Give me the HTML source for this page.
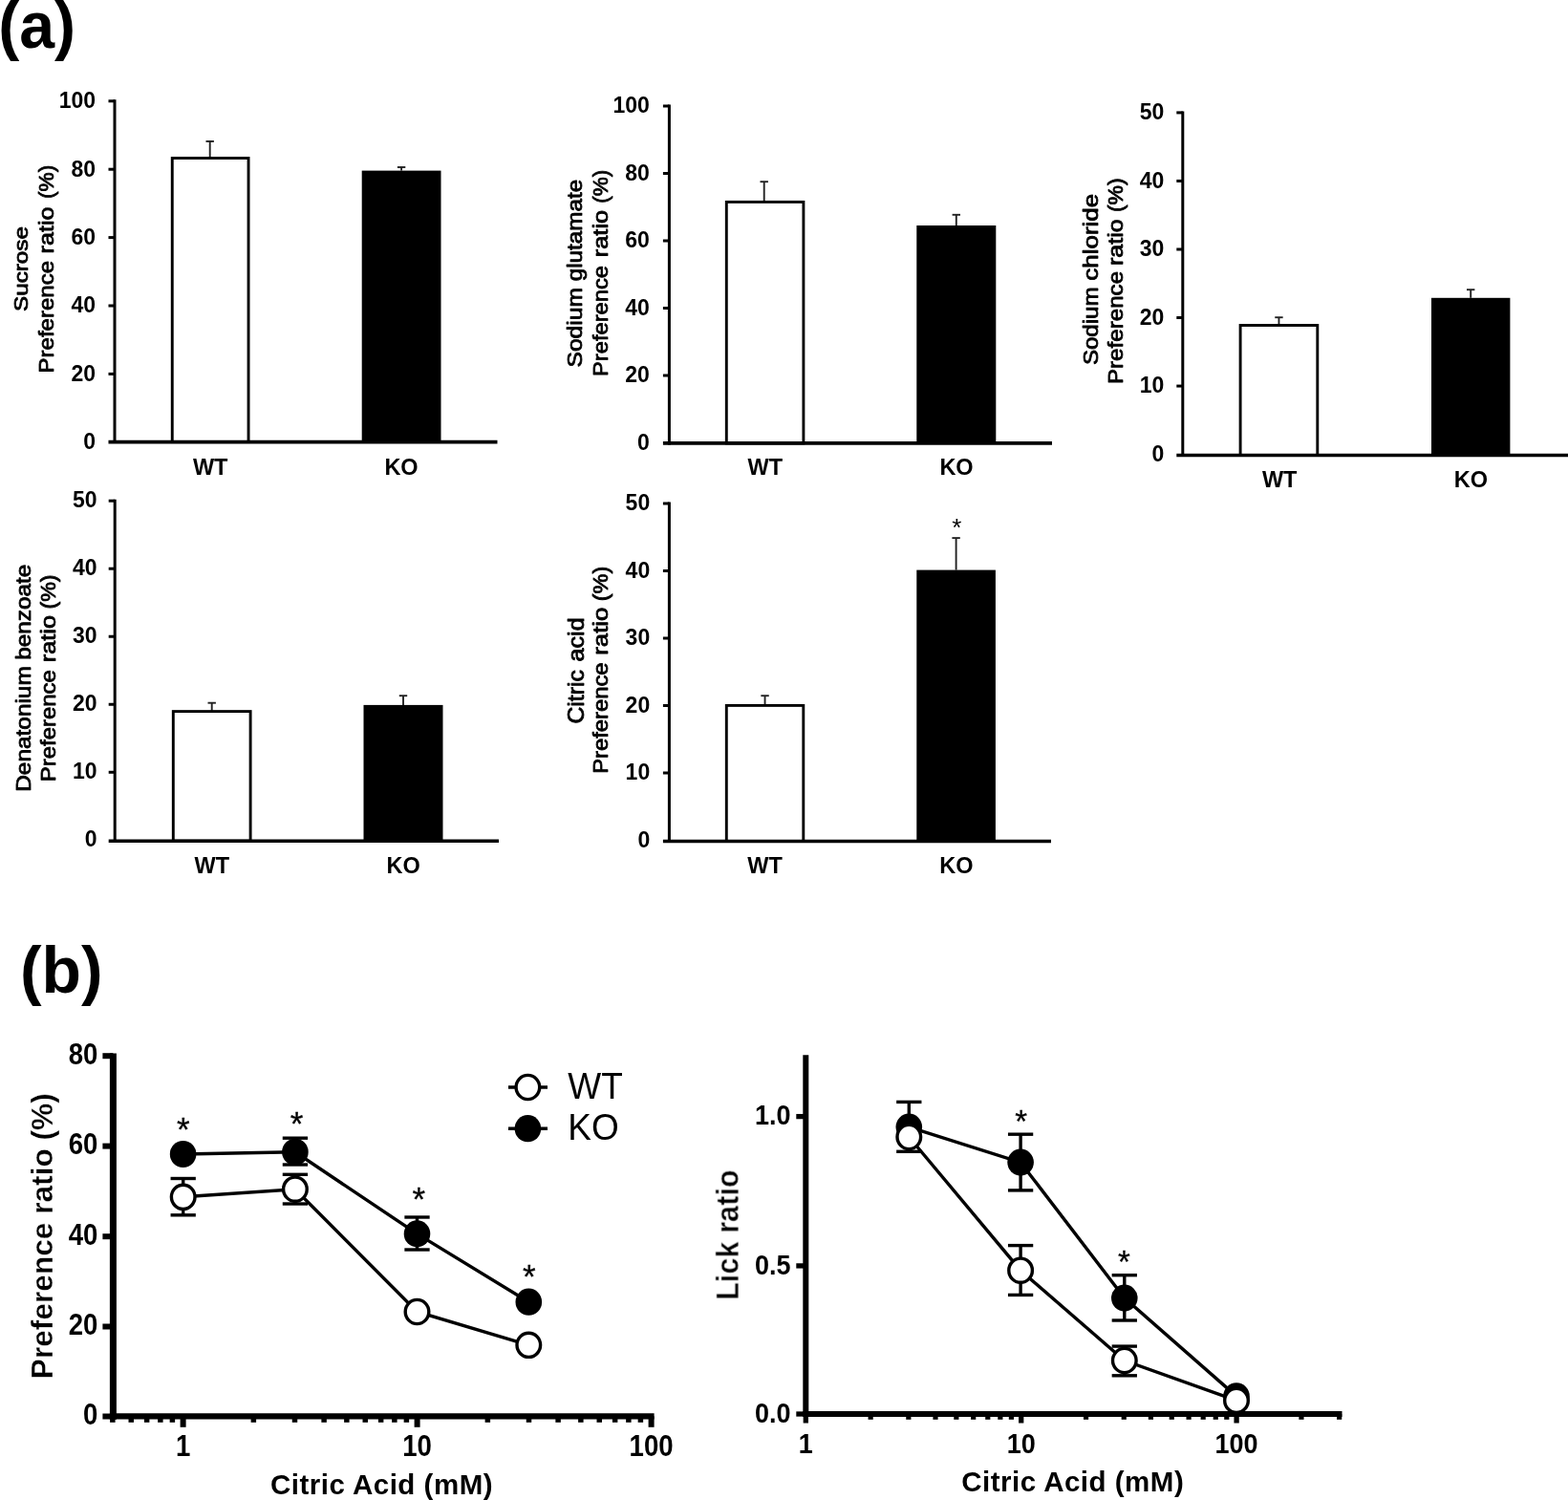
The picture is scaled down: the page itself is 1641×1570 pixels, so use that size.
<!DOCTYPE html>
<html lang="en">
<head>
<meta charset="utf-8">
<title>Figure</title>
<style>
html,body{margin:0;padding:0;background:#fff;}
body{width:1641px;height:1570px;overflow:hidden;}
svg{display:block;}
</style>
</head>
<body>
<svg width="1641" height="1570" viewBox="0 0 1641 1570" font-family="'Liberation Sans', sans-serif" fill="#000">
<rect width="1641" height="1570" fill="#fff"/>
<g style="filter:blur(0.45px)">
<text x="-1.8" y="49.9" font-size="68.5" font-weight="bold" text-anchor="start" transform="translate(-1.8 49.9) scale(0.967 1) translate(1.8 -49.9)">(a)</text>
<text x="21.0" y="1038.8" font-size="68.5" font-weight="bold" text-anchor="start" transform="translate(21.0 1038.8) scale(0.99 1) translate(-21.0 -1038.8)">(b)</text>
<text x="29.3" y="325.99" font-size="20.2" text-anchor="start" transform="translate(29.3 325.99) rotate(-90) scale(1.2006 1) translate(-29.3 -325.99)" stroke="#000" stroke-width="0.8" stroke-linejoin="round">Sucrose</text>
<text x="55.7" y="390.53" font-size="21.6" text-anchor="start" transform="translate(55.7 390.53) rotate(-90) scale(1.1144 1) translate(-55.7 -390.53)" stroke="#000" stroke-width="0.8" stroke-linejoin="round">Preference</text>
<text x="55.7" y="265.44" font-size="21.6" text-anchor="start" transform="translate(55.7 265.44) rotate(-90) scale(1.1675 1) translate(-55.7 -265.44)" stroke="#000" stroke-width="0.8" stroke-linejoin="round">ratio</text>
<text x="55.7" y="207.96" font-size="21.6" text-anchor="start" transform="translate(55.7 207.96) rotate(-90) scale(1.049 1) translate(-55.7 -207.96)" stroke="#000" stroke-width="0.8" stroke-linejoin="round">(%)</text>
<line x1="219.7" y1="165.5" x2="219.7" y2="147.95" stroke="#222" stroke-width="1.9" stroke-linecap="butt"/>
<line x1="215.5" y1="147.95" x2="223.89999999999998" y2="147.95" stroke="#222" stroke-width="1.9" stroke-linecap="butt"/>
<rect x="180.25" y="165.50" width="79.80" height="297.10" fill="#fff" stroke="#000" stroke-width="2.9"/>
<line x1="420.1" y1="178.6" x2="420.1" y2="175.0" stroke="#222" stroke-width="1.9" stroke-linecap="butt"/>
<line x1="415.90000000000003" y1="175.0" x2="424.3" y2="175.0" stroke="#222" stroke-width="1.9" stroke-linecap="butt"/>
<rect x="378.70" y="178.60" width="82.80" height="284.00" fill="#000"/>
<line x1="120.0" y1="104.3" x2="120.0" y2="464.1" stroke="#000" stroke-width="3.0" stroke-linecap="butt"/>
<line x1="113.5" y1="462.6" x2="520.5" y2="462.6" stroke="#000" stroke-width="3.6" stroke-linecap="butt"/>
<line x1="113.5" y1="391.4" x2="120.0" y2="391.4" stroke="#000" stroke-width="3.0" stroke-linecap="butt"/>
<line x1="113.5" y1="320.0" x2="120.0" y2="320.0" stroke="#000" stroke-width="3.0" stroke-linecap="butt"/>
<line x1="113.5" y1="248.60000000000002" x2="120.0" y2="248.60000000000002" stroke="#000" stroke-width="3.0" stroke-linecap="butt"/>
<line x1="113.5" y1="177.2" x2="120.0" y2="177.2" stroke="#000" stroke-width="3.0" stroke-linecap="butt"/>
<line x1="113.5" y1="105.80000000000001" x2="120.0" y2="105.80000000000001" stroke="#000" stroke-width="3.0" stroke-linecap="butt"/>
<text x="100.0" y="470.1" font-size="23" font-weight="bold" text-anchor="end">0</text>
<text x="100.0" y="398.7" font-size="23" font-weight="bold" text-anchor="end">20</text>
<text x="100.0" y="327.3" font-size="23" font-weight="bold" text-anchor="end">40</text>
<text x="100.0" y="255.9" font-size="23" font-weight="bold" text-anchor="end">60</text>
<text x="100.0" y="184.5" font-size="23" font-weight="bold" text-anchor="end">80</text>
<text x="100.0" y="113.1" font-size="23" font-weight="bold" text-anchor="end">100</text>
<text x="220.2" y="497.2" font-size="23.5" font-weight="bold" text-anchor="middle">WT</text>
<text x="420.0" y="497.2" font-size="23.5" font-weight="bold" text-anchor="middle">KO</text>
<text x="609.5" y="384.51" font-size="22.0" text-anchor="start" transform="translate(609.5 384.51) rotate(-90) scale(1.1197 1) translate(-609.5 -384.51)" stroke="#000" stroke-width="0.8" stroke-linejoin="round">Sodium</text>
<text x="609.5" y="294.37" font-size="22.0" text-anchor="start" transform="translate(609.5 294.37) rotate(-90) scale(1.1055 1) translate(-609.5 -294.37)" stroke="#000" stroke-width="0.8" stroke-linejoin="round">glutamate</text>
<text x="636.4" y="394.0" font-size="22.0" text-anchor="start" transform="translate(636.4 394.0) rotate(-90) scale(1.0789 1) translate(-636.4 -394.0)" stroke="#000" stroke-width="0.8" stroke-linejoin="round">Preference</text>
<text x="636.4" y="269.25" font-size="22.0" text-anchor="start" transform="translate(636.4 269.25) rotate(-90) scale(1.1561 1) translate(-636.4 -269.25)" stroke="#000" stroke-width="0.8" stroke-linejoin="round">ratio</text>
<text x="636.4" y="212.75" font-size="22.0" text-anchor="start" transform="translate(636.4 212.75) rotate(-90) scale(1.0235 1) translate(-636.4 -212.75)" stroke="#000" stroke-width="0.8" stroke-linejoin="round">(%)</text>
<line x1="799.7" y1="211.4" x2="799.7" y2="190.2" stroke="#222" stroke-width="1.9" stroke-linecap="butt"/>
<line x1="795.5" y1="190.2" x2="803.9000000000001" y2="190.2" stroke="#222" stroke-width="1.9" stroke-linecap="butt"/>
<rect x="760.30" y="211.40" width="80.60" height="252.50" fill="#fff" stroke="#000" stroke-width="2.9"/>
<line x1="1000.8" y1="236.0" x2="1000.8" y2="224.8" stroke="#222" stroke-width="1.9" stroke-linecap="butt"/>
<line x1="996.5999999999999" y1="224.8" x2="1005.0" y2="224.8" stroke="#222" stroke-width="1.9" stroke-linecap="butt"/>
<rect x="959.30" y="236.00" width="83.00" height="227.90" fill="#000"/>
<line x1="700.4" y1="109.5" x2="700.4" y2="465.4" stroke="#000" stroke-width="3.0" stroke-linecap="butt"/>
<line x1="693.9" y1="463.9" x2="1101" y2="463.9" stroke="#000" stroke-width="3.6" stroke-linecap="butt"/>
<line x1="693.9" y1="393.0" x2="700.4" y2="393.0" stroke="#000" stroke-width="3.0" stroke-linecap="butt"/>
<line x1="693.9" y1="322.5" x2="700.4" y2="322.5" stroke="#000" stroke-width="3.0" stroke-linecap="butt"/>
<line x1="693.9" y1="252.0" x2="700.4" y2="252.0" stroke="#000" stroke-width="3.0" stroke-linecap="butt"/>
<line x1="693.9" y1="181.5" x2="700.4" y2="181.5" stroke="#000" stroke-width="3.0" stroke-linecap="butt"/>
<line x1="693.9" y1="111.0" x2="700.4" y2="111.0" stroke="#000" stroke-width="3.0" stroke-linecap="butt"/>
<text x="679.9" y="470.5" font-size="23" font-weight="bold" text-anchor="end">0</text>
<text x="679.9" y="400.0" font-size="23" font-weight="bold" text-anchor="end">20</text>
<text x="679.9" y="329.5" font-size="23" font-weight="bold" text-anchor="end">40</text>
<text x="679.9" y="259.0" font-size="23" font-weight="bold" text-anchor="end">60</text>
<text x="679.9" y="188.5" font-size="23" font-weight="bold" text-anchor="end">80</text>
<text x="679.9" y="118.0" font-size="23" font-weight="bold" text-anchor="end">100</text>
<text x="800.8" y="497.4" font-size="23.5" font-weight="bold" text-anchor="middle">WT</text>
<text x="1001.0" y="497.4" font-size="23.5" font-weight="bold" text-anchor="middle">KO</text>
<text x="1148.6" y="382.08" font-size="22.0" text-anchor="start" transform="translate(1148.6 382.08) rotate(-90) scale(1.0948 1) translate(-1148.6 -382.08)" stroke="#000" stroke-width="0.8" stroke-linejoin="round">Sodium</text>
<text x="1148.6" y="293.67" font-size="22.0" text-anchor="start" transform="translate(1148.6 293.67) rotate(-90) scale(1.1797 1) translate(-1148.6 -293.67)" stroke="#000" stroke-width="0.8" stroke-linejoin="round">chloride</text>
<text x="1175.3" y="402.03" font-size="22.0" text-anchor="start" transform="translate(1175.3 402.03) rotate(-90) scale(1.098 1) translate(-1175.3 -402.03)" stroke="#000" stroke-width="0.8" stroke-linejoin="round">Preference</text>
<text x="1175.3" y="278.03" font-size="22.0" text-anchor="start" transform="translate(1175.3 278.03) rotate(-90) scale(1.1388 1) translate(-1175.3 -278.03)" stroke="#000" stroke-width="0.8" stroke-linejoin="round">ratio</text>
<text x="1175.3" y="222.08" font-size="22.0" text-anchor="start" transform="translate(1175.3 222.08) rotate(-90) scale(1.0458 1) translate(-1175.3 -222.08)" stroke="#000" stroke-width="0.8" stroke-linejoin="round">(%)</text>
<line x1="1338.4499999999998" y1="340.5" x2="1338.4499999999998" y2="332.2" stroke="#222" stroke-width="1.9" stroke-linecap="butt"/>
<line x1="1334.2499999999998" y1="332.2" x2="1342.6499999999999" y2="332.2" stroke="#222" stroke-width="1.9" stroke-linecap="butt"/>
<rect x="1298.10" y="340.50" width="80.70" height="136.00" fill="#fff" stroke="#000" stroke-width="2.9"/>
<line x1="1539.2" y1="311.8" x2="1539.2" y2="303.2" stroke="#222" stroke-width="1.9" stroke-linecap="butt"/>
<line x1="1535.0" y1="303.2" x2="1543.4" y2="303.2" stroke="#222" stroke-width="1.9" stroke-linecap="butt"/>
<rect x="1498.00" y="311.80" width="82.40" height="164.70" fill="#000"/>
<line x1="1237.8" y1="116.4" x2="1237.8" y2="478.0" stroke="#000" stroke-width="3.0" stroke-linecap="butt"/>
<line x1="1231.3" y1="476.5" x2="1641" y2="476.5" stroke="#000" stroke-width="3.3" stroke-linecap="butt"/>
<line x1="1231.3" y1="404.06" x2="1237.8" y2="404.06" stroke="#000" stroke-width="3.0" stroke-linecap="butt"/>
<line x1="1231.3" y1="332.52" x2="1237.8" y2="332.52" stroke="#000" stroke-width="3.0" stroke-linecap="butt"/>
<line x1="1231.3" y1="260.98" x2="1237.8" y2="260.98" stroke="#000" stroke-width="3.0" stroke-linecap="butt"/>
<line x1="1231.3" y1="189.44" x2="1237.8" y2="189.44" stroke="#000" stroke-width="3.0" stroke-linecap="butt"/>
<line x1="1231.3" y1="117.89999999999998" x2="1237.8" y2="117.89999999999998" stroke="#000" stroke-width="3.0" stroke-linecap="butt"/>
<text x="1218.3" y="482.8" font-size="23" font-weight="bold" text-anchor="end">0</text>
<text x="1218.3" y="411.3" font-size="23" font-weight="bold" text-anchor="end">10</text>
<text x="1218.3" y="339.7" font-size="23" font-weight="bold" text-anchor="end">20</text>
<text x="1218.3" y="268.2" font-size="23" font-weight="bold" text-anchor="end">30</text>
<text x="1218.3" y="196.6" font-size="23" font-weight="bold" text-anchor="end">40</text>
<text x="1218.3" y="125.1" font-size="23" font-weight="bold" text-anchor="end">50</text>
<text x="1339.2" y="509.6" font-size="23.5" font-weight="bold" text-anchor="middle">WT</text>
<text x="1539.4" y="509.6" font-size="23.5" font-weight="bold" text-anchor="middle">KO</text>
<text x="32.0" y="828.75" font-size="22.0" text-anchor="start" transform="translate(32.0 828.75) rotate(-90) scale(1.1093 1) translate(-32.0 -828.75)" stroke="#000" stroke-width="0.8" stroke-linejoin="round">Denatonium</text>
<text x="32.0" y="690.68" font-size="22.0" text-anchor="start" transform="translate(32.0 690.68) rotate(-90) scale(1.1054 1) translate(-32.0 -690.68)" stroke="#000" stroke-width="0.8" stroke-linejoin="round">benzoate</text>
<text x="58.3" y="818.32" font-size="22.0" text-anchor="start" transform="translate(58.3 818.32) rotate(-90) scale(1.0903 1) translate(-58.3 -818.32)" stroke="#000" stroke-width="0.8" stroke-linejoin="round">Preference</text>
<text x="58.3" y="693.25" font-size="22.0" text-anchor="start" transform="translate(58.3 693.25) rotate(-90) scale(1.1537 1) translate(-58.3 -693.25)" stroke="#000" stroke-width="0.8" stroke-linejoin="round">ratio</text>
<text x="58.3" y="637.6" font-size="22.0" text-anchor="start" transform="translate(58.3 637.6) rotate(-90) scale(1.0585 1) translate(-58.3 -637.6)" stroke="#000" stroke-width="0.8" stroke-linejoin="round">(%)</text>
<line x1="221.70000000000002" y1="744.6" x2="221.70000000000002" y2="735.7" stroke="#222" stroke-width="1.9" stroke-linecap="butt"/>
<line x1="217.50000000000003" y1="735.7" x2="225.9" y2="735.7" stroke="#222" stroke-width="1.9" stroke-linecap="butt"/>
<rect x="181.30" y="744.60" width="80.80" height="135.60" fill="#fff" stroke="#000" stroke-width="2.9"/>
<line x1="422.0" y1="737.9" x2="422.0" y2="728.2" stroke="#222" stroke-width="1.9" stroke-linecap="butt"/>
<line x1="417.8" y1="728.2" x2="426.2" y2="728.2" stroke="#222" stroke-width="1.9" stroke-linecap="butt"/>
<rect x="380.50" y="737.90" width="83.00" height="142.30" fill="#000"/>
<line x1="120.2" y1="522.7" x2="120.2" y2="881.7" stroke="#000" stroke-width="3.0" stroke-linecap="butt"/>
<line x1="113.7" y1="880.2" x2="522" y2="880.2" stroke="#000" stroke-width="3.6" stroke-linecap="butt"/>
<line x1="113.7" y1="808.28" x2="120.2" y2="808.28" stroke="#000" stroke-width="3.0" stroke-linecap="butt"/>
<line x1="113.7" y1="737.26" x2="120.2" y2="737.26" stroke="#000" stroke-width="3.0" stroke-linecap="butt"/>
<line x1="113.7" y1="666.24" x2="120.2" y2="666.24" stroke="#000" stroke-width="3.0" stroke-linecap="butt"/>
<line x1="113.7" y1="595.22" x2="120.2" y2="595.22" stroke="#000" stroke-width="3.0" stroke-linecap="butt"/>
<line x1="113.7" y1="524.2" x2="120.2" y2="524.2" stroke="#000" stroke-width="3.0" stroke-linecap="butt"/>
<text x="101.5" y="885.9" font-size="23" font-weight="bold" text-anchor="end">0</text>
<text x="101.5" y="814.9" font-size="23" font-weight="bold" text-anchor="end">10</text>
<text x="101.5" y="743.9" font-size="23" font-weight="bold" text-anchor="end">20</text>
<text x="101.5" y="672.8" font-size="23" font-weight="bold" text-anchor="end">30</text>
<text x="101.5" y="601.8" font-size="23" font-weight="bold" text-anchor="end">40</text>
<text x="101.5" y="530.8" font-size="23" font-weight="bold" text-anchor="end">50</text>
<text x="221.8" y="914.1" font-size="23.5" font-weight="bold" text-anchor="middle">WT</text>
<text x="422.2" y="914.1" font-size="23.5" font-weight="bold" text-anchor="middle">KO</text>
<text x="610.7" y="757.54" font-size="23" text-anchor="start" transform="translate(610.7 757.54) rotate(-90) scale(1.0791 1) translate(-610.7 -757.54)" stroke="#000" stroke-width="0.8" stroke-linejoin="round">Citric</text>
<text x="610.7" y="692.43" font-size="23" text-anchor="start" transform="translate(610.7 692.43) rotate(-90) scale(1.0939 1) translate(-610.7 -692.43)" stroke="#000" stroke-width="0.8" stroke-linejoin="round">acid</text>
<text x="636.5" y="809.81" font-size="22.0" text-anchor="start" transform="translate(636.5 809.81) rotate(-90) scale(1.0827 1) translate(-636.5 -809.81)" stroke="#000" stroke-width="0.8" stroke-linejoin="round">Preference</text>
<text x="636.5" y="685.78" font-size="22.0" text-anchor="start" transform="translate(636.5 685.78) rotate(-90) scale(1.1734 1) translate(-636.5 -685.78)" stroke="#000" stroke-width="0.8" stroke-linejoin="round">ratio</text>
<text x="636.5" y="629.21" font-size="22.0" text-anchor="start" transform="translate(636.5 629.21) rotate(-90) scale(1.068 1) translate(-636.5 -629.21)" stroke="#000" stroke-width="0.8" stroke-linejoin="round">(%)</text>
<line x1="800.55" y1="738.4" x2="800.55" y2="728.2" stroke="#222" stroke-width="1.9" stroke-linecap="butt"/>
<line x1="796.3499999999999" y1="728.2" x2="804.75" y2="728.2" stroke="#222" stroke-width="1.9" stroke-linecap="butt"/>
<rect x="760.30" y="738.40" width="80.50" height="142.10" fill="#fff" stroke="#000" stroke-width="2.9"/>
<line x1="1000.6" y1="596.6" x2="1000.6" y2="563.1" stroke="#222" stroke-width="1.9" stroke-linecap="butt"/>
<line x1="996.4" y1="563.1" x2="1004.8000000000001" y2="563.1" stroke="#222" stroke-width="1.9" stroke-linecap="butt"/>
<rect x="959.30" y="596.60" width="82.60" height="283.90" fill="#000"/>
<line x1="700.4" y1="525.5" x2="700.4" y2="882.0" stroke="#000" stroke-width="3.0" stroke-linecap="butt"/>
<line x1="693.9" y1="880.5" x2="1100" y2="880.5" stroke="#000" stroke-width="3.6" stroke-linecap="butt"/>
<line x1="693.9" y1="809.0" x2="700.4" y2="809.0" stroke="#000" stroke-width="3.0" stroke-linecap="butt"/>
<line x1="693.9" y1="738.5" x2="700.4" y2="738.5" stroke="#000" stroke-width="3.0" stroke-linecap="butt"/>
<line x1="693.9" y1="668.0" x2="700.4" y2="668.0" stroke="#000" stroke-width="3.0" stroke-linecap="butt"/>
<line x1="693.9" y1="597.5" x2="700.4" y2="597.5" stroke="#000" stroke-width="3.0" stroke-linecap="butt"/>
<line x1="693.9" y1="527.0" x2="700.4" y2="527.0" stroke="#000" stroke-width="3.0" stroke-linecap="butt"/>
<text x="680.2" y="886.6" font-size="23" font-weight="bold" text-anchor="end">0</text>
<text x="680.2" y="816.1" font-size="23" font-weight="bold" text-anchor="end">10</text>
<text x="680.2" y="745.6" font-size="23" font-weight="bold" text-anchor="end">20</text>
<text x="680.2" y="675.1" font-size="23" font-weight="bold" text-anchor="end">30</text>
<text x="680.2" y="604.6" font-size="23" font-weight="bold" text-anchor="end">40</text>
<text x="680.2" y="534.1" font-size="23" font-weight="bold" text-anchor="end">50</text>
<text x="800.6" y="914.3" font-size="23.5" font-weight="bold" text-anchor="middle">WT</text>
<text x="1000.8" y="914.3" font-size="23.5" font-weight="bold" text-anchor="middle">KO</text>
<text x="1001.3" y="561" font-size="26" text-anchor="middle">*</text>
<path d="M191.6,1208.0 L308.9,1205.8 L436.5,1291.4 L553.3,1362.7" fill="none" stroke="#000" stroke-width="3.4"/>
<line x1="308.9" y1="1191.2" x2="308.9" y2="1219" stroke="#000" stroke-width="3.4" stroke-linecap="butt"/>
<line x1="295.75" y1="1191.2" x2="322.04999999999995" y2="1191.2" stroke="#000" stroke-width="3.4" stroke-linecap="butt"/>
<line x1="295.75" y1="1219" x2="322.04999999999995" y2="1219" stroke="#000" stroke-width="3.4" stroke-linecap="butt"/>
<line x1="436.5" y1="1274.0" x2="436.5" y2="1308" stroke="#000" stroke-width="3.4" stroke-linecap="butt"/>
<line x1="423.35" y1="1274.0" x2="449.65" y2="1274.0" stroke="#000" stroke-width="3.4" stroke-linecap="butt"/>
<line x1="423.35" y1="1308" x2="449.65" y2="1308" stroke="#000" stroke-width="3.4" stroke-linecap="butt"/>
<ellipse cx="191.6" cy="1208" rx="13.8" ry="14.1" fill="#000"/>
<ellipse cx="308.9" cy="1205.8" rx="13.8" ry="14.1" fill="#000"/>
<ellipse cx="436.5" cy="1291.4" rx="13.8" ry="14.1" fill="#000"/>
<ellipse cx="553.3" cy="1362.7" rx="13.8" ry="14.1" fill="#000"/>
<path d="M191.7,1252.8 L308.9,1244.7 L436.5,1373.0 L553.3,1407.8" fill="none" stroke="#000" stroke-width="3.4"/>
<line x1="191.7" y1="1233.5" x2="191.7" y2="1271.8" stroke="#000" stroke-width="3.4" stroke-linecap="butt"/>
<line x1="178.54999999999998" y1="1233.5" x2="204.85" y2="1233.5" stroke="#000" stroke-width="3.4" stroke-linecap="butt"/>
<line x1="178.54999999999998" y1="1271.8" x2="204.85" y2="1271.8" stroke="#000" stroke-width="3.4" stroke-linecap="butt"/>
<line x1="308.9" y1="1229.3" x2="308.9" y2="1260" stroke="#000" stroke-width="3.4" stroke-linecap="butt"/>
<line x1="295.75" y1="1229.3" x2="322.04999999999995" y2="1229.3" stroke="#000" stroke-width="3.4" stroke-linecap="butt"/>
<line x1="295.75" y1="1260" x2="322.04999999999995" y2="1260" stroke="#000" stroke-width="3.4" stroke-linecap="butt"/>
<ellipse cx="191.7" cy="1252.8" rx="12.3" ry="12.6" fill="#fff" stroke="#000" stroke-width="3.4"/>
<ellipse cx="308.9" cy="1244.7" rx="12.3" ry="12.6" fill="#fff" stroke="#000" stroke-width="3.4"/>
<ellipse cx="436.5" cy="1373" rx="12.3" ry="12.6" fill="#fff" stroke="#000" stroke-width="3.4"/>
<ellipse cx="553.3" cy="1407.8" rx="12.3" ry="12.6" fill="#fff" stroke="#000" stroke-width="3.4"/>
<line x1="118.4" y1="1102.6" x2="118.4" y2="1485.8" stroke="#000" stroke-width="7" stroke-linecap="butt"/>
<line x1="114.9" y1="1482.3" x2="684.6" y2="1482.3" stroke="#000" stroke-width="6.2" stroke-linecap="butt"/>
<line x1="107.4" y1="1105.2" x2="118.4" y2="1105.2" stroke="#000" stroke-width="6" stroke-linecap="butt"/>
<text x="102.4" y="1114.0" font-size="32" font-weight="bold" text-anchor="end" transform="translate(102.4 1114.0) scale(0.8625 1) translate(-102.4 -1114.0)">80</text>
<line x1="107.4" y1="1199.6" x2="118.4" y2="1199.6" stroke="#000" stroke-width="6" stroke-linecap="butt"/>
<text x="102.4" y="1208.4" font-size="32" font-weight="bold" text-anchor="end" transform="translate(102.4 1208.4) scale(0.8625 1) translate(-102.4 -1208.4)">60</text>
<line x1="107.4" y1="1294.2" x2="118.4" y2="1294.2" stroke="#000" stroke-width="6" stroke-linecap="butt"/>
<text x="102.4" y="1303.0" font-size="32" font-weight="bold" text-anchor="end" transform="translate(102.4 1303.0) scale(0.8625 1) translate(-102.4 -1303.0)">40</text>
<line x1="107.4" y1="1388.5" x2="118.4" y2="1388.5" stroke="#000" stroke-width="6" stroke-linecap="butt"/>
<text x="102.4" y="1397.3" font-size="32" font-weight="bold" text-anchor="end" transform="translate(102.4 1397.3) scale(0.8625 1) translate(-102.4 -1397.3)">20</text>
<line x1="107.4" y1="1482.5" x2="118.4" y2="1482.5" stroke="#000" stroke-width="6" stroke-linecap="butt"/>
<text x="102.4" y="1491.3" font-size="32" font-weight="bold" text-anchor="end" transform="translate(102.4 1491.3) scale(0.8625 1) translate(-102.4 -1491.3)">0</text>
<line x1="191.6" y1="1482.3" x2="191.6" y2="1493.8" stroke="#000" stroke-width="6" stroke-linecap="butt"/>
<text x="191.6" y="1524" font-size="32" font-weight="bold" text-anchor="middle" transform="translate(191.6 1524) scale(0.8625 1) translate(-191.6 -1524)">1</text>
<line x1="436.6" y1="1482.3" x2="436.6" y2="1493.8" stroke="#000" stroke-width="6" stroke-linecap="butt"/>
<text x="436.6" y="1524" font-size="32" font-weight="bold" text-anchor="middle" transform="translate(436.6 1524) scale(0.8625 1) translate(-436.6 -1524)">10</text>
<line x1="681.6" y1="1482.3" x2="681.6" y2="1493.8" stroke="#000" stroke-width="6" stroke-linecap="butt"/>
<text x="681.6" y="1524" font-size="32" font-weight="bold" text-anchor="middle" transform="translate(681.6 1524) scale(0.8625 1) translate(-681.6 -1524)">100</text>
<line x1="117.8476510623246" y1="1482.3" x2="117.8476510623246" y2="1488.8" stroke="#000" stroke-width="5.5" stroke-linecap="butt"/>
<line x1="137.2470563439927" y1="1482.3" x2="137.2470563439927" y2="1488.8" stroke="#000" stroke-width="5.5" stroke-linecap="butt"/>
<line x1="153.64901980349293" y1="1482.3" x2="153.64901980349293" y2="1488.8" stroke="#000" stroke-width="5.5" stroke-linecap="butt"/>
<line x1="167.8570468130262" y1="1482.3" x2="167.8570468130262" y2="1488.8" stroke="#000" stroke-width="5.5" stroke-linecap="butt"/>
<line x1="180.38941481263458" y1="1482.3" x2="180.38941481263458" y2="1488.8" stroke="#000" stroke-width="5.5" stroke-linecap="butt"/>
<line x1="265.3523489376754" y1="1482.3" x2="265.3523489376754" y2="1488.8" stroke="#000" stroke-width="5.5" stroke-linecap="butt"/>
<line x1="308.4947074063173" y1="1482.3" x2="308.4947074063173" y2="1488.8" stroke="#000" stroke-width="5.5" stroke-linecap="butt"/>
<line x1="339.1046978753508" y1="1482.3" x2="339.1046978753508" y2="1488.8" stroke="#000" stroke-width="5.5" stroke-linecap="butt"/>
<line x1="362.84765106232464" y1="1482.3" x2="362.84765106232464" y2="1488.8" stroke="#000" stroke-width="5.5" stroke-linecap="butt"/>
<line x1="382.24705634399265" y1="1482.3" x2="382.24705634399265" y2="1488.8" stroke="#000" stroke-width="5.5" stroke-linecap="butt"/>
<line x1="398.64901980349293" y1="1482.3" x2="398.64901980349293" y2="1488.8" stroke="#000" stroke-width="5.5" stroke-linecap="butt"/>
<line x1="412.85704681302616" y1="1482.3" x2="412.85704681302616" y2="1488.8" stroke="#000" stroke-width="5.5" stroke-linecap="butt"/>
<line x1="425.3894148126346" y1="1482.3" x2="425.3894148126346" y2="1488.8" stroke="#000" stroke-width="5.5" stroke-linecap="butt"/>
<line x1="510.3523489376754" y1="1482.3" x2="510.3523489376754" y2="1488.8" stroke="#000" stroke-width="5.5" stroke-linecap="butt"/>
<line x1="553.4947074063173" y1="1482.3" x2="553.4947074063173" y2="1488.8" stroke="#000" stroke-width="5.5" stroke-linecap="butt"/>
<line x1="584.1046978753508" y1="1482.3" x2="584.1046978753508" y2="1488.8" stroke="#000" stroke-width="5.5" stroke-linecap="butt"/>
<line x1="607.8476510623246" y1="1482.3" x2="607.8476510623246" y2="1488.8" stroke="#000" stroke-width="5.5" stroke-linecap="butt"/>
<line x1="627.2470563439927" y1="1482.3" x2="627.2470563439927" y2="1488.8" stroke="#000" stroke-width="5.5" stroke-linecap="butt"/>
<line x1="643.6490198034929" y1="1482.3" x2="643.6490198034929" y2="1488.8" stroke="#000" stroke-width="5.5" stroke-linecap="butt"/>
<line x1="657.8570468130262" y1="1482.3" x2="657.8570468130262" y2="1488.8" stroke="#000" stroke-width="5.5" stroke-linecap="butt"/>
<line x1="670.3894148126345" y1="1482.3" x2="670.3894148126345" y2="1488.8" stroke="#000" stroke-width="5.5" stroke-linecap="butt"/>
<text x="191.8" y="1193.5" font-size="35" text-anchor="middle" stroke="#000" stroke-width="0.3">*</text>
<text x="310.5" y="1188.4" font-size="35" text-anchor="middle" stroke="#000" stroke-width="0.3">*</text>
<text x="438.3" y="1267" font-size="35" text-anchor="middle" stroke="#000" stroke-width="0.3">*</text>
<text x="553.8" y="1348" font-size="35" text-anchor="middle" stroke="#000" stroke-width="0.3">*</text>
<text x="399.5" y="1564" font-size="29.5" font-weight="bold" text-anchor="middle" letter-spacing="0.5">Citric Acid (mM)</text>
<text x="54.7" y="1293.7" font-size="31.65" font-weight="bold" text-anchor="middle" transform="rotate(-90 54.7 1293.7)" stroke="#fff" stroke-width="0.3">Preference ratio (%)</text>
<path d="M951.3,1179.6 L1068.1,1216.6 L1176.8,1358.6 L1294.0,1461.4" fill="none" stroke="#000" stroke-width="3.4"/>
<line x1="951.3" y1="1153.4" x2="951.3" y2="1205.3" stroke="#000" stroke-width="3.4" stroke-linecap="butt"/>
<line x1="938.15" y1="1153.4" x2="964.4499999999999" y2="1153.4" stroke="#000" stroke-width="3.4" stroke-linecap="butt"/>
<line x1="938.15" y1="1205.3" x2="964.4499999999999" y2="1205.3" stroke="#000" stroke-width="3.4" stroke-linecap="butt"/>
<line x1="1068.1" y1="1187.2" x2="1068.1" y2="1245.9" stroke="#000" stroke-width="3.4" stroke-linecap="butt"/>
<line x1="1054.9499999999998" y1="1187.2" x2="1081.25" y2="1187.2" stroke="#000" stroke-width="3.4" stroke-linecap="butt"/>
<line x1="1054.9499999999998" y1="1245.9" x2="1081.25" y2="1245.9" stroke="#000" stroke-width="3.4" stroke-linecap="butt"/>
<line x1="1176.8" y1="1334.7" x2="1176.8" y2="1382" stroke="#000" stroke-width="3.4" stroke-linecap="butt"/>
<line x1="1163.6499999999999" y1="1334.7" x2="1189.95" y2="1334.7" stroke="#000" stroke-width="3.4" stroke-linecap="butt"/>
<line x1="1163.6499999999999" y1="1382" x2="1189.95" y2="1382" stroke="#000" stroke-width="3.4" stroke-linecap="butt"/>
<ellipse cx="951.3" cy="1179.6" rx="13.8" ry="14.1" fill="#000"/>
<ellipse cx="1068.1" cy="1216.6" rx="13.8" ry="14.1" fill="#000"/>
<ellipse cx="1176.8" cy="1358.6" rx="13.8" ry="14.1" fill="#000"/>
<ellipse cx="1294" cy="1461.4" rx="13.8" ry="14.1" fill="#000"/>
<path d="M951.3,1190.0 L1068.1,1329.7 L1176.8,1424.0 L1294.0,1465.9" fill="none" stroke="#000" stroke-width="3.4"/>
<line x1="1068.1" y1="1303.6" x2="1068.1" y2="1355.4" stroke="#000" stroke-width="3.4" stroke-linecap="butt"/>
<line x1="1054.9499999999998" y1="1303.6" x2="1081.25" y2="1303.6" stroke="#000" stroke-width="3.4" stroke-linecap="butt"/>
<line x1="1054.9499999999998" y1="1355.4" x2="1081.25" y2="1355.4" stroke="#000" stroke-width="3.4" stroke-linecap="butt"/>
<line x1="1176.8" y1="1409.1" x2="1176.8" y2="1439.8" stroke="#000" stroke-width="3.4" stroke-linecap="butt"/>
<line x1="1163.6499999999999" y1="1409.1" x2="1189.95" y2="1409.1" stroke="#000" stroke-width="3.4" stroke-linecap="butt"/>
<line x1="1163.6499999999999" y1="1439.8" x2="1189.95" y2="1439.8" stroke="#000" stroke-width="3.4" stroke-linecap="butt"/>
<ellipse cx="951.3" cy="1190" rx="12.3" ry="12.6" fill="#fff" stroke="#000" stroke-width="3.4"/>
<ellipse cx="1068.1" cy="1329.7" rx="12.3" ry="12.6" fill="#fff" stroke="#000" stroke-width="3.4"/>
<ellipse cx="1176.8" cy="1424" rx="12.3" ry="12.6" fill="#fff" stroke="#000" stroke-width="3.4"/>
<ellipse cx="1294" cy="1465.9" rx="12.3" ry="12.6" fill="#fff" stroke="#000" stroke-width="3.4"/>
<line x1="843.3" y1="1104.3" x2="843.3" y2="1483.0" stroke="#000" stroke-width="6" stroke-linecap="butt"/>
<line x1="840.3" y1="1480.0" x2="1404.5" y2="1480.0" stroke="#000" stroke-width="6" stroke-linecap="butt"/>
<line x1="833.3" y1="1168.6" x2="843.3" y2="1168.6" stroke="#000" stroke-width="5.3" stroke-linecap="butt"/>
<text x="827.5" y="1177.3" font-size="30" font-weight="bold" text-anchor="end" transform="translate(827.5 1177.3) scale(0.9 1) translate(-827.5 -1177.3)">1.0</text>
<line x1="833.3" y1="1324.9" x2="843.3" y2="1324.9" stroke="#000" stroke-width="5.3" stroke-linecap="butt"/>
<text x="827.5" y="1333.6" font-size="30" font-weight="bold" text-anchor="end" transform="translate(827.5 1333.6) scale(0.9 1) translate(-827.5 -1333.6)">0.5</text>
<line x1="833.3" y1="1480.0" x2="843.3" y2="1480.0" stroke="#000" stroke-width="5.3" stroke-linecap="butt"/>
<text x="827.5" y="1488.7" font-size="30" font-weight="bold" text-anchor="end" transform="translate(827.5 1488.7) scale(0.9 1) translate(-827.5 -1488.7)">0.0</text>
<line x1="843.3" y1="1480.0" x2="843.3" y2="1489.5" stroke="#000" stroke-width="5.3" stroke-linecap="butt"/>
<text x="843.3" y="1520.6" font-size="30" font-weight="bold" text-anchor="middle" transform="translate(843.3 1520.6) scale(0.9 1) translate(-843.3 -1520.6)">1</text>
<line x1="1068.7" y1="1480.0" x2="1068.7" y2="1489.5" stroke="#000" stroke-width="5.3" stroke-linecap="butt"/>
<text x="1068.7" y="1520.6" font-size="30" font-weight="bold" text-anchor="middle" transform="translate(1068.7 1520.6) scale(0.9 1) translate(-1068.7 -1520.6)">10</text>
<line x1="1294.1" y1="1480.0" x2="1294.1" y2="1489.5" stroke="#000" stroke-width="5.3" stroke-linecap="butt"/>
<text x="1294.1" y="1520.6" font-size="30" font-weight="bold" text-anchor="middle" transform="translate(1294.1 1520.6) scale(0.9 1) translate(-1294.1 -1520.6)">100</text>
<line x1="911.1521610226613" y1="1480.0" x2="911.1521610226613" y2="1485.8" stroke="#000" stroke-width="5.2" stroke-linecap="butt"/>
<line x1="950.8431308138119" y1="1480.0" x2="950.8431308138119" y2="1485.8" stroke="#000" stroke-width="5.2" stroke-linecap="butt"/>
<line x1="979.0043220453226" y1="1480.0" x2="979.0043220453226" y2="1485.8" stroke="#000" stroke-width="5.2" stroke-linecap="butt"/>
<line x1="1000.8478389773386" y1="1480.0" x2="1000.8478389773386" y2="1485.8" stroke="#000" stroke-width="5.2" stroke-linecap="butt"/>
<line x1="1018.6952918364732" y1="1480.0" x2="1018.6952918364732" y2="1485.8" stroke="#000" stroke-width="5.2" stroke-linecap="butt"/>
<line x1="1033.7850982192135" y1="1480.0" x2="1033.7850982192135" y2="1485.8" stroke="#000" stroke-width="5.2" stroke-linecap="butt"/>
<line x1="1046.856483067984" y1="1480.0" x2="1046.856483067984" y2="1485.8" stroke="#000" stroke-width="5.2" stroke-linecap="butt"/>
<line x1="1058.3862616276238" y1="1480.0" x2="1058.3862616276238" y2="1485.8" stroke="#000" stroke-width="5.2" stroke-linecap="butt"/>
<line x1="1136.5521610226613" y1="1480.0" x2="1136.5521610226613" y2="1485.8" stroke="#000" stroke-width="5.2" stroke-linecap="butt"/>
<line x1="1176.2431308138118" y1="1480.0" x2="1176.2431308138118" y2="1485.8" stroke="#000" stroke-width="5.2" stroke-linecap="butt"/>
<line x1="1204.4043220453227" y1="1480.0" x2="1204.4043220453227" y2="1485.8" stroke="#000" stroke-width="5.2" stroke-linecap="butt"/>
<line x1="1226.2478389773387" y1="1480.0" x2="1226.2478389773387" y2="1485.8" stroke="#000" stroke-width="5.2" stroke-linecap="butt"/>
<line x1="1244.0952918364733" y1="1480.0" x2="1244.0952918364733" y2="1485.8" stroke="#000" stroke-width="5.2" stroke-linecap="butt"/>
<line x1="1259.1850982192136" y1="1480.0" x2="1259.1850982192136" y2="1485.8" stroke="#000" stroke-width="5.2" stroke-linecap="butt"/>
<line x1="1272.256483067984" y1="1480.0" x2="1272.256483067984" y2="1485.8" stroke="#000" stroke-width="5.2" stroke-linecap="butt"/>
<line x1="1283.7862616276238" y1="1480.0" x2="1283.7862616276238" y2="1485.8" stroke="#000" stroke-width="5.2" stroke-linecap="butt"/>
<line x1="1361.9521610226614" y1="1480.0" x2="1361.9521610226614" y2="1485.8" stroke="#000" stroke-width="5.2" stroke-linecap="butt"/>
<line x1="1401.643130813812" y1="1480.0" x2="1401.643130813812" y2="1485.8" stroke="#000" stroke-width="5.2" stroke-linecap="butt"/>
<text x="1068.6" y="1185" font-size="33" text-anchor="middle" stroke="#000" stroke-width="0.3">*</text>
<text x="1176.3" y="1331.5" font-size="33" text-anchor="middle" stroke="#000" stroke-width="0.3">*</text>
<text x="1122.7" y="1561" font-size="29.5" font-weight="bold" text-anchor="middle" letter-spacing="0.5">Citric Acid (mM)</text>
<text x="773.2" y="1292.5" font-size="30.3" font-weight="bold" text-anchor="middle" letter-spacing="0.2" transform="translate(773.2 1292.5) rotate(-90) scale(1 1.07) translate(-773.2 -1292.5)" stroke="#fff" stroke-width="0.4">Lick ratio</text>
<line x1="532" y1="1138" x2="573" y2="1138" stroke="#000" stroke-width="3.5" stroke-linecap="butt"/>
<ellipse cx="552.4" cy="1138" rx="12.3" ry="12.6" fill="#fff" stroke="#000" stroke-width="3.4"/>
<line x1="532" y1="1181.2" x2="573" y2="1181.2" stroke="#000" stroke-width="3.5" stroke-linecap="butt"/>
<ellipse cx="552.4" cy="1181.2" rx="13.8" ry="14.1" fill="#000"/>
<text x="594.3" y="1149.8" font-size="37" text-anchor="start" transform="translate(594.3 1149.8) scale(1 1.05) translate(-594.3 -1149.8)">WT</text>
<text x="594.3" y="1193.5" font-size="37" text-anchor="start" transform="translate(594.3 1193.5) scale(1 1.05) translate(-594.3 -1193.5)">KO</text>
</g>
</svg>
</body>
</html>
